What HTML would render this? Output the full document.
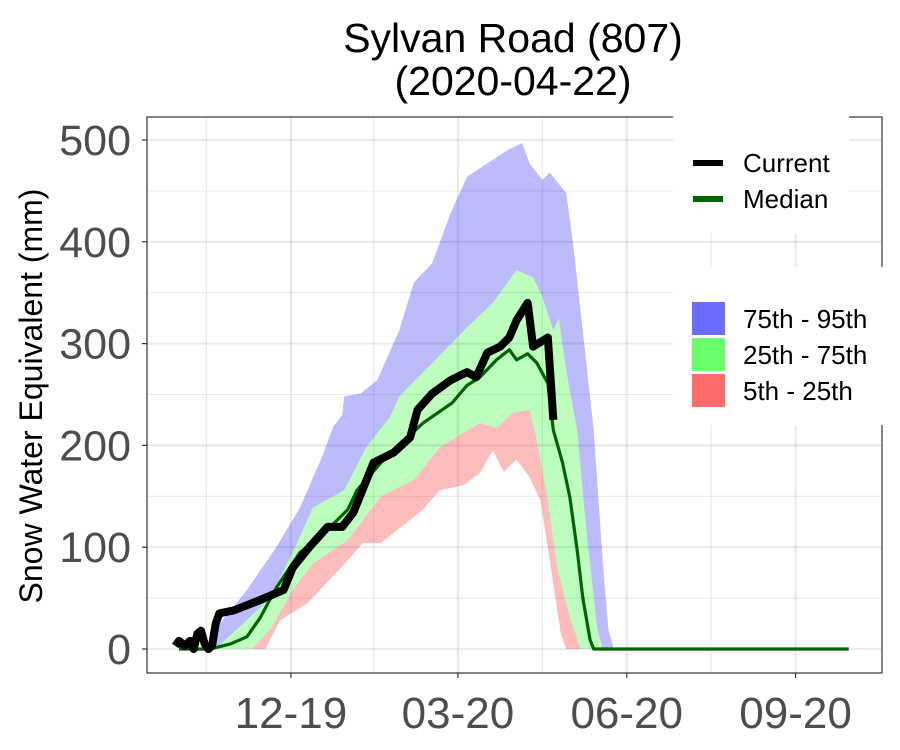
<!DOCTYPE html>
<html><head><meta charset="utf-8"><style>
body{margin:0;background:#fff}
svg{display:block;font-family:"Liberation Sans",sans-serif}
</style></head><body>
<svg id="chart" width="900" height="750">
<g id="fills"></g><g id="grid"></g><g id="lines"></g><g id="axes"></g>
</svg>
<script>
// days since Oct 1 2019 for each series
const p95Days=[0,15,21,37,53,66,78,84,89,90,99,108,120,128,138,148,157,168,179,187,191,198,202,211,215,220,226,231,234,237,365];
const p95Vals=[0,0,22,58,100,139,189,218,230,248,251,264,313,360,379,428,464,477,490,497,477,461,468,448,395,313,215,84,19,0,0];
const p75Days=[0,10,21,35,50,62,73,90,102,115,120,138,157,171,184,193,198,204,207,211,217,222,228,231,365];
const p75Vals=[0,0,2,25,51,95,139,156,198,228,248,281,316,340,372,365,346,313,325,274,215,117,19,0,0];
const p25Days=[0,40,50,62,73,92,110,128,142,155,164,173,182,191,195,201,206,213,219,365];
const p25Vals=[0,0,20,58,84,107,150,166,198,212,222,217,232,235,205,146,81,31,0,0];
const p5Days=[0,47,55,70,92,100,110,124,133,142,155,164,171,177,184,191,197,202,208,211,365];
const p5Vals=[0,0,28,45,87,104,104,124,137,156,161,173,195,174,186,169,146,87,16,0,0];
const medDays=[0,17,28,37,44,53,66,77,92,97,110,133,149,157,164,173,180,184,190,195,201,204,209,213,217,220,224,226,365];
const medVals=[0,0,5,12,30,60,95,110,137,156,183,222,242,259,267,284,294,284,290,281,261,215,183,149,97,51,9,0,0];
const curDays=[-2,0,3,6,8,10,12,14,16,18,20,22,30,44,57,62,71,81,89,95,106,117,126,130,138,148,157,162,168,175,180,184,190,193,201,204];
const curVals=[3,8,3,8,0,15,18,5,0,3,25,35,38,48,58,80,100,120,120,134,183,193,208,235,251,264,272,267,291,297,306,323,340,297,306,225];
const yTicks=[0,100,200,300,400,500];
const xTickDays=[61,152,244,336];
const xTickLabels=["12-19","03-20","06-20","09-20"];

const NS="http://www.w3.org/2000/svg";
const X=d=>179+d*1.835;
const Y=v=>649-v*1.018;
const PL=147,PR=882,PT=117,PB=673;
function mk(tag,attrs,parent){const e=document.createElementNS(NS,tag);for(const k in attrs)e.setAttribute(k,attrs[k]);parent.appendChild(e);return e;}
const fills=document.getElementById('fills'),grid=document.getElementById('grid'),lines=document.getElementById('lines'),axes=document.getElementById('axes');
function area(days,vals,color,name){
  let d=`M${X(days[0])},${Y(0)}`;
  days.forEach((t,i)=>{d+=`L${X(t)},${Y(vals[i])}`});
  d+=`L${X(days[days.length-1])},${Y(0)}Z`;
  const p=mk('path',{d:d,fill:color},fills);
  
  
}
area(p95Days,p95Vals,'#bcbcfd','band-75-95');
area(p75Days,p75Vals,'#bdfdbd','band-25-75');
area(p25Days,p25Vals,'#fdbdbd','band-5-25');
area(p5Days,p5Vals,'#ffffff','below-5th');
for(let v=0;v<=550;v+=50){if(Y(v)<PT)continue;const g=mk('line',{x1:PL,x2:PR,y1:Y(v),y2:Y(v),stroke:'rgba(0,0,0,0.08)','stroke-width':v%100==0?2.2:1.1},grid);
}
const minorDays=[15,106,198,290];
xTickDays.concat(minorDays).forEach((t,i)=>{const g=mk('line',{x1:X(t),x2:X(t),y1:PT,y2:PB,stroke:'rgba(0,0,0,0.08)','stroke-width':i<4?2.2:1.1},grid);
});
function line(days,vals,color,w,name){
  const pts=days.map((t,i)=>X(t)+','+Y(vals[i])).join(' ');
  const p=mk('polyline',{points:pts,fill:'none',stroke:color,'stroke-width':w,'stroke-linejoin':'round','stroke-linecap':'butt'},lines);
  
  
}
line(medDays,medVals,'#006400',3.2,'median-line');
line(curDays,curVals,'#000',8,'current-line');
const b=mk('rect',{x:PL,y:PT,width:PR-PL,height:PB-PT,fill:'none',stroke:'#333','stroke-width':1.2},axes);

yTicks.forEach(v=>{
  mk('line',{x1:PL-5,x2:PL,y1:Y(v),y2:Y(v),stroke:'#333','stroke-width':1.2},axes);
  const t=mk('text',{x:PL-16,y:Y(v)+15,'text-anchor':'end','font-size':43,fill:'#4d4d4d'},axes);
  t.textContent=v;
  
});
xTickDays.forEach((d,i)=>{
  mk('line',{x1:X(d),x2:X(d),y1:PB,y2:PB+5,stroke:'#333','stroke-width':1.2},axes);
  const t=mk('text',{x:X(d),y:728,'text-anchor':'middle','font-size':44,fill:'#4d4d4d'},axes);
  t.textContent=xTickLabels[i];
  
});
</script>
<svg width="900" height="750" style="position:absolute;left:0;top:0">
<text x="513" y="52" text-anchor="middle" font-size="41" font-family="Liberation Sans">Sylvan Road (807)</text>
<text x="513" y="95" text-anchor="middle" font-size="41" font-family="Liberation Sans">(2020-04-22)</text>
<text transform="translate(42,396) rotate(-90)" text-anchor="middle" font-size="32" font-family="Liberation Sans">Snow Water Equivalent (mm)</text>
<g>
<rect x="673" y="100" width="176" height="133" fill="#fff"/>
<rect x="693" y="160" width="30" height="6" fill="#000"/>
<text x="743" y="172" font-size="26" font-family="Liberation Sans">Current</text>
<rect x="693" y="196" width="30" height="6" fill="#006400"/>
<text x="743" y="208" font-size="26" font-family="Liberation Sans">Median</text>
</g>
<g>
<rect x="673" y="267" width="227" height="158" fill="#fff"/>
<rect x="692" y="302" width="33" height="33" fill="#6b6bff"/>
<text x="743" y="328" font-size="26" font-family="Liberation Sans">75th - 95th</text>
<rect x="692" y="338" width="33" height="33" fill="#6bff6b"/>
<text x="743" y="364" font-size="26" font-family="Liberation Sans">25th - 75th</text>
<rect x="692" y="374" width="33" height="33" fill="#ff6b6b"/>
<text x="743" y="400" font-size="26" font-family="Liberation Sans">5th - 25th</text>
</g>
</svg>
</body></html>
